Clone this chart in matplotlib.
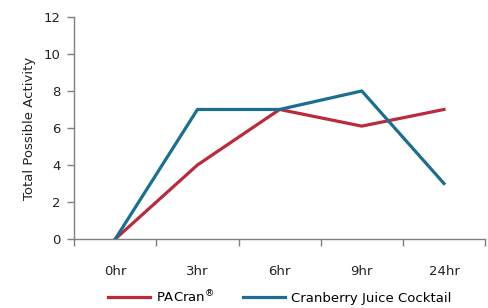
import matplotlib
matplotlib.use("Agg")
import matplotlib.pyplot as plt
import numpy as np

times = ["0hr", "3hr", "6hr", "9hr", "24hr"]
pacran = [0, 4, 7, 6.1, 7]
cjc = [0, 7, 7, 8, 3]

red = "#BA2A3B"
blue = "#1A6E92"
grey = "#7f7f7f"

plt.rcParams["font.family"] = "DejaVu Sans"

fig = plt.figure(figsize=(4.88, 3.08), dpi=100)
ax = fig.add_axes([0.152, 0.224, 0.842, 0.721])

x = np.arange(len(times))
ax.plot(x, pacran, color=red, lw=2.3, label="PACran$^{\\circledR}$")
ax.plot(x, cjc, color=blue, lw=2.3, label="Cranberry Juice Cocktail")

ax.set_xlim(-0.5, len(times) - 0.5)
ax.set_ylim(0, 12)
ax.set_yticks(range(0, 13, 2))

# boundaries get the tick marks, centres get the labels
ax.set_xticks(np.arange(-0.5, len(times), 1))
ax.set_xticklabels([])
ax.set_xticks(x, minor=True)
ax.set_xticklabels(times, minor=True)
ax.tick_params(axis="x", which="minor", length=0, pad=19, labelsize=9.5, colors="#222222")
ax.tick_params(axis="x", which="major", length=5, width=1, color=grey, direction="out")
ax.tick_params(axis="y", length=5, width=1, color=grey, labelsize=9.5, labelcolor="#222222", pad=5)

for s in ["top", "right"]:
    ax.spines[s].set_visible(False)
for s in ["left", "bottom"]:
    ax.spines[s].set_color(grey)
    ax.spines[s].set_linewidth(1)

ax.set_ylabel("Total Possible Activity", fontsize=9.5, color="#222222", labelpad=5)

ax.legend(loc="upper center", bbox_to_anchor=(0.5, -0.212), ncol=2, frameon=False,
          fontsize=9.5, handlelength=3.2, handletextpad=0.4, columnspacing=2.2,
          borderaxespad=0, borderpad=0.2)

fig.savefig("out.png", dpi=100)
